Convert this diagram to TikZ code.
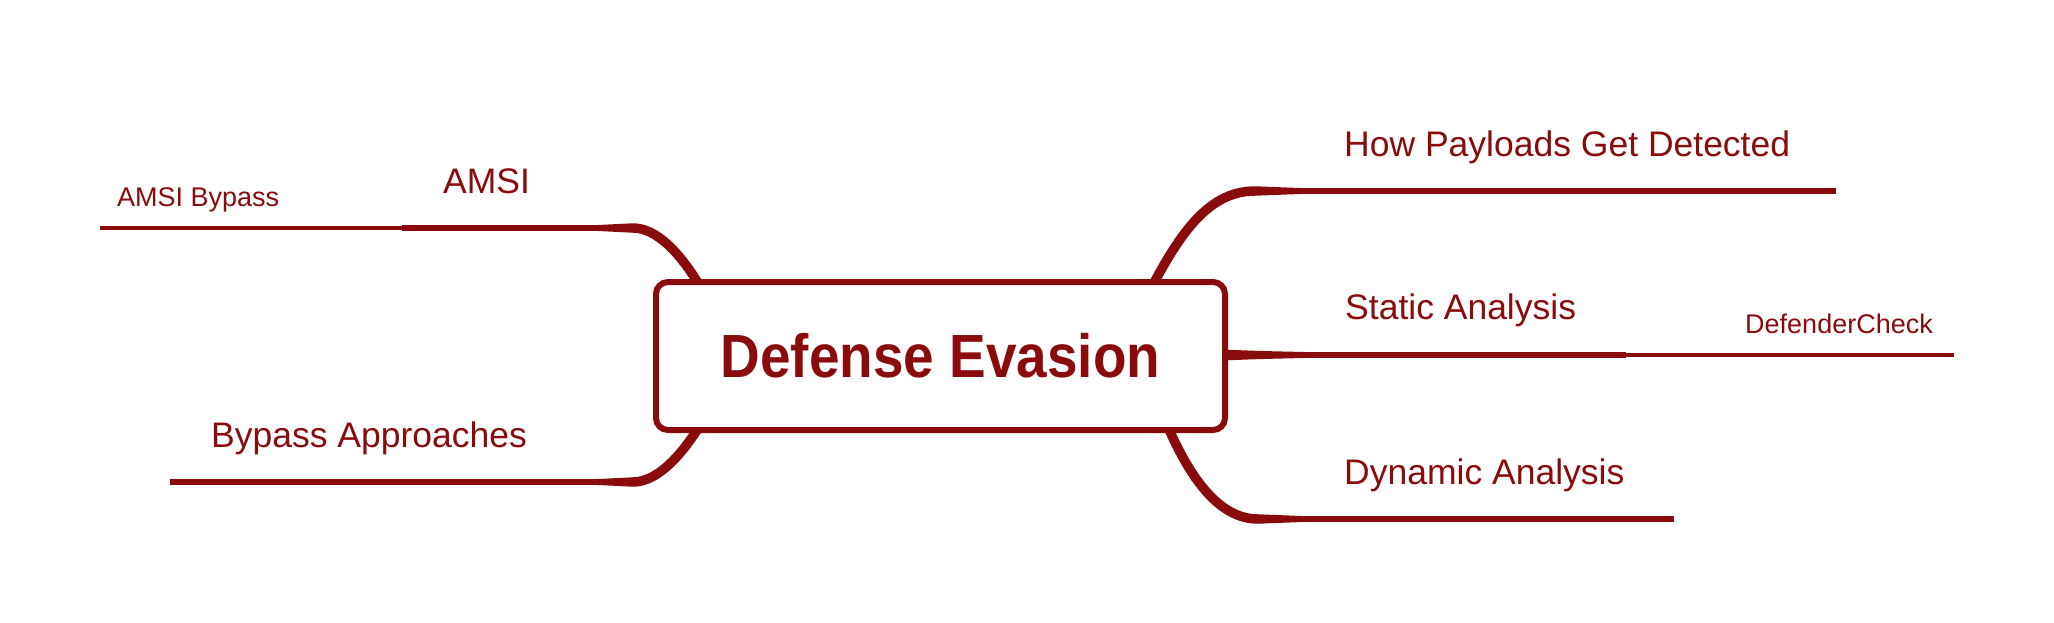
\documentclass[tikz,border=0pt]{standalone}
\usepackage{fontspec}
\setmainfont{Liberation Sans}
\newfontfamily\rootfont[FakeStretch=0.9]{Liberation Sans}
\definecolor{mred}{RGB}{137,11,11}
\pgfdeclarelayer{bg}
\pgfsetlayers{bg,main}
\begin{document}
\begin{tikzpicture}[x=1pt,y=-1pt,
  lbl/.style={anchor=base west, inner sep=0pt, text=mred, font=\fontsize{35.5}{40}\selectfont},
  sublbl/.style={anchor=base west, inner sep=0pt, text=mred, font=\fontsize{27}{32}\selectfont},
  branch/.style={draw=mred, line width=6pt},
  subbranch/.style={draw=mred, line width=4pt},
  curvebr/.style={draw=mred, line width=9.5pt},
  taper/.style={fill=mred},
  rootbox/.style={draw=mred, line width=6pt, fill=white, rounded corners=12pt,
    minimum width=569pt, minimum height=148pt, inner sep=0pt, text=mred,
    font=\rootfont\bfseries\fontsize{61}{70}\selectfont}]
\useasboundingbox (0,0) rectangle (2054,622);
% central topic
\node[rootbox] (root) at (940.5,356) {Defense Evasion};
% labels
\node[lbl] (amsi) at (443,193) {AMSI};
\node[sublbl] (amsib) at (117,206) {AMSI Bypass};
\node[lbl] (byp) at (211,447) {Bypass Approaches};
\node[lbl] (how) at (1344,156) {How Payloads Get Detected};
\node[lbl] (stat) at (1345,319) {Static Analysis};
\node[sublbl] (defc) at (1745,333) {DefenderCheck};
\node[lbl] (dyn) at (1344,484) {Dynamic Analysis};
% branch points
\coordinate (rTL) at (705,295);
\coordinate (rBL) at (705,417);
\coordinate (rTR) at (1140,310);
\coordinate (rBR) at (1165,420);
\coordinate (amsiA) at (633,228);
\coordinate (amsiB) at (402,228);
\coordinate (amsiC) at (100,228);
\coordinate (bypA) at (633,482);
\coordinate (bypB) at (170,482);
\coordinate (howA) at (1255,191);
\coordinate (howB) at (1836,191);
\coordinate (statA) at (1225,355);
\coordinate (statB) at (1626,355);
\coordinate (statC) at (1954,355);
\coordinate (dynA) at (1258,519);
\coordinate (dynB) at (1674,519);
\begin{pgfonlayer}{bg}
% AMSI
\draw[curvebr] (rTL) .. controls (680,250) and (655,228) .. (amsiA);
\fill[taper] (598,225) -- (633.5,223.25) -- (633.5,232.75) -- (598,231) -- cycle;
\draw[branch] (amsiA) -- (amsiB);
\draw[subbranch] (amsiB) -- (amsiC);
% Bypass Approaches
\draw[curvebr] (rBL) .. controls (680,460) and (655,482) .. (bypA);
\fill[taper] (598,479) -- (633.5,477.25) -- (633.5,486.75) -- (598,485) -- cycle;
\draw[branch] (bypA) -- (bypB);
% How Payloads Get Detected
\draw[curvebr] (rTR) .. controls (1175,240) and (1205,191) .. (howA);
\fill[taper] (1254.5,186.25) -- (1300,188) -- (1300,194) -- (1254.5,195.75) -- cycle;
\draw[branch] (howA) -- (howB);
% Static Analysis
\fill[taper] (1222,349.5) .. controls (1260,351) .. (1305,352) -- (1305,358) .. controls (1260,359) .. (1222,360.5) -- cycle;
\draw[branch] (statA) -- (statB);
\draw[subbranch] (statB) -- (statC);
% Dynamic Analysis
\draw[curvebr] (rBR) .. controls (1190,480) and (1220,519) .. (dynA);
\fill[taper] (1257.5,514.25) -- (1302,516) -- (1302,522) -- (1257.5,523.75) -- cycle;
\draw[branch] (dynA) -- (dynB);
\end{pgfonlayer}
\end{tikzpicture}
\end{document}
